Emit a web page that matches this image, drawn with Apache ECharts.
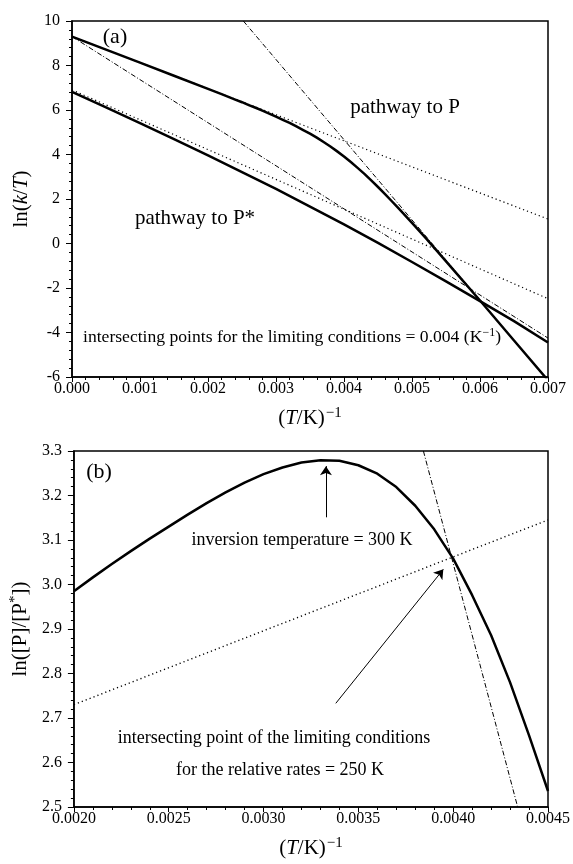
<!DOCTYPE html>
<html>
<head>
<meta charset="utf-8">
<script src="https://cdn.jsdelivr.net/npm/echarts@6/dist/echarts.min.js"></script>
<style>
  html, body { margin: 0; padding: 0; background: #fff; }
  #chart { width: 573px; height: 864px; }
</style>
</head>
<body>
<div id="chart"></div>
<script>
// (a) ln(k/T) vs 1/T
var aPathP = [[0, 9.30], [0.0005, 8.71], [0.001, 8.13], [0.0015, 7.54], [0.002, 6.95], [0.0022, 6.71],
    [0.0024, 6.47], [0.0025, 6.35], [0.0026, 6.22], [0.0027, 6.10], [0.0028, 5.97], [0.0029, 5.84],
    [0.003, 5.70], [0.0031, 5.56], [0.0032, 5.42], [0.0033, 5.26], [0.0034, 5.10], [0.0035, 4.94],
    [0.0036, 4.76], [0.0037, 4.56], [0.0038, 4.36], [0.0039, 4.14], [0.004, 3.91], [0.0041, 3.66],
    [0.0042, 3.40], [0.0043, 3.13], [0.0044, 2.84], [0.0045, 2.54], [0.0046, 2.23], [0.0047, 1.91],
    [0.0048, 1.59], [0.005, 0.93], [0.0052, 0.25], [0.0056, -1.15], [0.006, -2.56], [0.0065, -4.36],
    [0.007, -6.15]];
var aPathPstar = [[0, 6.81], [0.0005, 6.12], [0.001, 5.41], [0.0015, 4.69], [0.002, 3.96], [0.0025, 3.21],
    [0.003, 2.45], [0.0035, 1.66], [0.004, 0.86], [0.0045, 0.03], [0.005, -0.83], [0.0055, -1.70],
    [0.006, -2.59], [0.0065, -3.49], [0.007, -4.45]];
var aLimitP1 = [[0, 9.3], [0.007, 1.1]];          // dotted, shallow
var aLimitP2 = [[0.00252, 10], [0.007, -6.15]];   // dash-dot, steep
var aLimitPs1 = [[0, 6.9], [0.007, -2.48]];       // dotted
var aLimitPs2 = [[0, 9.3], [0.007, -4.25]];       // dash-dot

// (b) ln([P]/[P*]) vs 1/T
var bRatio = [[0.0020, 2.985], [0.0021, 3.016], [0.0022, 3.046], [0.0023, 3.075], [0.0024, 3.103],
    [0.0025, 3.130], [0.0026, 3.157], [0.0027, 3.183], [0.0028, 3.207], [0.0029, 3.229],
    [0.0030, 3.248], [0.0031, 3.263], [0.0032, 3.274], [0.0033, 3.279], [0.0034, 3.278],
    [0.0035, 3.268], [0.0036, 3.249], [0.0037, 3.219], [0.0038, 3.177], [0.0039, 3.124],
    [0.0040, 3.058], [0.0041, 2.976], [0.0042, 2.886], [0.0043, 2.780], [0.0044, 2.661], [0.0045, 2.536]];
var bLimitDot = [[0.002, 2.73], [0.0045, 3.145]];
var bLimitDashDot = [[0.003843, 3.3], [0.00434, 2.5]];
var bArrowPeak = [[0.003329, 3.151], [0.003329, 3.266]];
var bArrowCross = [[0.003381, 2.733], [0.003948, 3.034]];

var serif = 'Liberation Serif';
var dotted = [1.2, 3];
var dashDot = [5, 2, 1, 2];

function xAxisCfg(idx, min, max, interval, dec) {
    return {
        gridIndex: idx, type: 'value', min: min, max: max, interval: interval,
        name: '({i|T}/K){s|−1}', nameLocation: 'middle', nameGap: 29,
        nameTextStyle: {
            fontFamily: serif, fontSize: 21, color: '#000',
            rich: { i: { fontFamily: serif, fontSize: 21, fontStyle: 'italic', color: '#000' },
                    s: { fontFamily: serif, fontSize: 15, color: '#000', verticalAlign: 'top', padding: [0, 0, 10, 1] } }
        },
        axisLine: { onZero: false, lineStyle: { color: '#000', width: 1.5 } },
        axisTick: { length: 5, lineStyle: { color: '#000', width: 1 } },
        minorTick: { show: true, splitNumber: 5, length: 3, lineStyle: { color: '#000' } },
        splitLine: { show: false },
        axisLabel: { fontFamily: serif, fontSize: 16, color: '#000', margin: 4,
                     formatter: function (v) { return v.toFixed(dec); } }
    };
}

function yAxisCfg(idx, min, max, interval, dec, name, rich) {
    return {
        gridIndex: idx, type: 'value', min: min, max: max, interval: interval,
        name: name, nameLocation: 'middle', nameGap: 40, nameRotate: 90,
        nameTextStyle: { fontFamily: serif, fontSize: 21, color: '#000', rich: rich },
        axisLine: { onZero: false, lineStyle: { color: '#000', width: 1.5 } },
        axisTick: { length: 6, lineStyle: { color: '#000', width: 1 } },
        minorTick: { show: true, splitNumber: 5, length: 3, lineStyle: { color: '#000' } },
        splitLine: { show: false },
        axisLabel: { fontFamily: serif, fontSize: 16, color: '#000', margin: 12,
                     formatter: function (v) { return dec ? v.toFixed(dec) : String(v); } }
    };
}

function line(name, data, xi, width, type) {
    return {
        name: name, type: 'line', xAxisIndex: xi, yAxisIndex: xi, data: data,
        showSymbol: false, smooth: false, silent: true, animation: false, clip: true,
        lineStyle: { color: '#000', width: width, type: type, join: 'round' }
    };
}

function arrow(data) {
    return {
        type: 'lines', coordinateSystem: 'cartesian2d', xAxisIndex: 1, yAxisIndex: 1,
        symbol: ['none', 'arrow'], symbolSize: [6, 9], animation: false, silent: true,
        lineStyle: { color: '#000', width: 1, opacity: 1 },
        data: [{ coords: data }]
    };
}

var txt = { fontFamily: serif, fill: '#000' };
function label(x, y, text, size, align, rich) {
    return {
        type: 'text', x: x, y: y, silent: true,
        style: Object.assign({}, txt, { text: text, fontSize: size, align: align || 'center',
            verticalAlign: 'middle', rich: rich })
    };
}

var chart = echarts.init(document.getElementById('chart'), null, { renderer: 'canvas' });
chart.setOption({
    backgroundColor: '#fff',
    animation: false,
    grid: [
        { left: 72, width: 476, top: 21, height: 356, show: true, borderColor: '#000', borderWidth: 1.5, backgroundColor: 'transparent' },
        { left: 73, width: 476, top: 451, height: 356, show: true, borderColor: '#000', borderWidth: 1.5, backgroundColor: 'transparent' }
    ],
    xAxis: [
        xAxisCfg(0, 0, 0.007, 0.001, 3),
        xAxisCfg(1, 0.002, 0.0045, 0.0005, 4)
    ],
    yAxis: [
        yAxisCfg(0, -6, 10, 2, 0, 'ln({i|k}/{i|T})',
            { i: { fontFamily: serif, fontSize: 21, fontStyle: 'italic', color: '#000' } }),
        yAxisCfg(1, 2.5, 3.3, 0.1, 1, 'ln([P]/[P{s|*}])',
            { s: { fontFamily: serif, fontSize: 15, color: '#000', verticalAlign: 'top', padding: [0, 0, 10, 0] } })
    ],
    series: [
        line('limit P dotted', aLimitP1, 0, 1.2, dotted),
        line('limit P dash-dot', aLimitP2, 0, 1, dashDot),
        line('limit P* dotted', aLimitPs1, 0, 1.2, dotted),
        line('limit P* dash-dot', aLimitPs2, 0, 1, dashDot),
        line('pathway to P', aPathP, 0, 2.5, 'solid'),
        line('pathway to P*', aPathPstar, 0, 2.5, 'solid'),
        line('relative rates dotted', bLimitDot, 1, 1.4, dotted),
        line('relative rates dash-dot', bLimitDashDot, 1, 1, dashDot),
        line('ln ratio', bRatio, 1, 2.5, 'solid'),
        arrow(bArrowPeak),
        arrow(bArrowCross)
    ],
    graphic: [
        label(115, 37, '(a)', 22),
        label(405, 107, 'pathway to P', 21),
        label(195, 218, 'pathway to P*', 21),
        label(83, 337, 'intersecting points for the limiting conditions = 0.004 (K{s|−1})', 17.6, 'left',
            { s: { fontFamily: serif, fontSize: 12, fill: '#000', verticalAlign: 'top', padding: [0, 0, 8, 0] } }),
        label(99, 472, '(b)', 22),
        label(302, 540, 'inversion temperature = 300 K', 18),
        label(274, 738, 'intersecting point of the limiting conditions', 18),
        label(280, 770, 'for the relative rates = 250 K', 18)
    ]
});
</script>
</body>
</html>
